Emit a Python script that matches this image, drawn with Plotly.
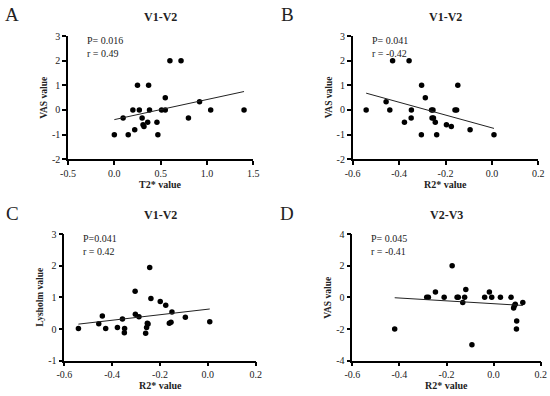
import numpy as np
import plotly.graph_objects as go

# ---- Data ----
a_x = [0.0, 0.095, 0.15, 0.2, 0.22, 0.25, 0.27, 0.30, 0.31, 0.32, 0.36, 0.37, 0.38,
       0.46, 0.47, 0.51, 0.55, 0.55, 0.6, 0.72, 0.80, 0.92, 1.04, 1.40]
a_y = [-1, -0.33, -1, 0, -0.8, 1, 0, -0.33, -0.6, -0.67, -0.5, 1, 0,
       -0.5, -1, 0, 0.5, 0, 2, 2, -0.33, 0.33, 0, 0]

b_x = [-0.542, -0.456, -0.44, -0.428, -0.377, -0.357, -0.348, -0.347, -0.304, -0.303,
       -0.287, -0.26, -0.258, -0.254, -0.252, -0.244, -0.238, -0.196, -0.175, -0.159,
       -0.152, -0.147, -0.094, 0.009]
b_y = [0, 0.33, 0, 2, -0.5, 2, -0.33, 0, -1, 1,
       0.5, 0, -0.33, 0, -0.33, -0.5, -1, -0.6, -0.67, 0,
       0, 1, -0.8, -1]

c_x = [-0.541, -0.456, -0.441, -0.427, -0.378, -0.357, -0.348, -0.349, -0.304, -0.303,
       -0.288, -0.26, -0.256, -0.253, -0.25, -0.243, -0.238, -0.199, -0.176, -0.161,
       -0.154, -0.15, -0.094, 0.008]
c_y = [0.02, 0.17, 0.41, 0.02, 0.05, 0.32, 0.02, -0.12, 1.19, 0.47,
       0.39, -0.13, 0.05, 0.18, 0.16, 1.94, 0.96, 0.87, 0.75, 0.18,
       0.21, 0.54, 0.37, 0.23]

d_x = [-0.42, -0.284, -0.277, -0.247, -0.21, -0.176, -0.155, -0.15, -0.131, -0.123,
       -0.118, -0.092, -0.038, -0.018, -0.008, 0.029, 0.074, 0.085, 0.088, 0.092,
       0.098, 0.097, 0.124]
d_y = [-2, 0, 0, 0.33, 0, 2, 0, 0, -0.33, 0,
       0.5, -3, 0, 0.33, 0, 0, 0, -0.67, -0.53, -0.44,
       -1.5, -2, -0.33]

panels = [
    dict(x=a_x, y=a_y, letter="A", title="V1-V2", xlabel="T2* value", ylabel="VAS value",
         p="P= 0.016", r="r = 0.49",
         xticks=[-0.5, 0.0, 0.5, 1.0, 1.5], xtext=["-0.5", "0.0", "0.5", "1.0", "1.5"],
         yticks=[-2, -1, 0, 1, 2, 3], ytext=["-2", "-1", "0", "1", "2", "3"]),
    dict(x=b_x, y=b_y, letter="B", title="V1-V2", xlabel="R2* value", ylabel="VAS value",
         p="P= 0.041", r="r = -0.42",
         xticks=[-0.6, -0.4, -0.2, 0.0, 0.2], xtext=["-0.6", "-0.4", "-0.2", "0.0", "0.2"],
         yticks=[-2, -1, 0, 1, 2, 3], ytext=["-2", "-1", "0", "1", "2", "3"]),
    dict(x=c_x, y=c_y, letter="C", title="V1-V2", xlabel="R2* value", ylabel="Lysholm value",
         p="P=0.041", r="r = 0.42",
         xticks=[-0.6, -0.4, -0.2, 0.0, 0.2], xtext=["-0.6", "-0.4", "-0.2", "0.0", "0.2"],
         yticks=[-1, 0, 1, 2, 3], ytext=["-1", "0", "1", "2", "3"]),
    dict(x=d_x, y=d_y, letter="D", title="V2-V3", xlabel="R2* value", ylabel="VAS value",
         p="P= 0.045", r="r = -0.41",
         xticks=[-0.6, -0.4, -0.2, 0.0, 0.2], xtext=["-0.6", "-0.4", "-0.2", "0.0", "0.2"],
         yticks=[-4, -2, 0, 2, 4], ytext=["-4", "-2", "0", "2", "4"]),
]

# ---- Layout (pixel geometry) ----
W, H = 550, 396
boxes = [  # left, right, top, bottom in px
    (68.0, 253.3, 36.0, 159.3),
    (352.7, 538.3, 36.0, 159.3),
    (64.3, 255.7, 234.0, 360.7),
    (352.3, 540.7, 234.0, 360.7),
]
FONT = "Liberation Serif, Times New Roman, serif"

fig = go.Figure()
annotations = []

def px(xp):
    return xp / W

def py(yp):
    return 1 - yp / H

def ann(x, y, text, size, **kw):
    d = dict(x=px(x), y=py(y), text=text, showarrow=False, xref="paper", yref="paper",
             xanchor="center", yanchor="middle", font=dict(family=FONT, size=size, color="#222"))
    d.update(kw)
    return d

for i, (pn, box) in enumerate(zip(panels, boxes)):
    k = "" if i == 0 else str(i + 1)
    l, r, t, b = box
    xa, ya = "x" + k, "y" + k
    fig.add_trace(go.Scatter(x=pn["x"], y=pn["y"], mode="markers", xaxis=xa, yaxis=ya,
                             marker=dict(color="black", size=5.5), showlegend=False,
                             cliponaxis=False))
    xs = np.array(pn["x"], float)
    ys = np.array(pn["y"], float)
    m, c0 = np.polyfit(xs, ys, 1)
    lx = np.array([xs.min(), xs.max()])
    fig.add_trace(go.Scatter(x=lx, y=m * lx + c0, mode="lines", xaxis=xa, yaxis=ya,
                             line=dict(color="#222222", width=1), showlegend=False))
    axis_common = dict(showline=True, linecolor="black", linewidth=1.5, ticks="outside",
                       ticklen=4, tickwidth=1.5, tickcolor="black", showgrid=False,
                       zeroline=False, automargin=False,
                       tickfont=dict(family=FONT, size=10, color="#222"))
    fig.update_layout(**{
        "xaxis" + k: dict(domain=[px(l), px(r)], range=[pn["xticks"][0], pn["xticks"][-1]],
                          tickvals=pn["xticks"], ticktext=pn["xtext"], anchor=ya,
                          **axis_common),
        "yaxis" + k: dict(domain=[py(b), py(t)], range=[pn["yticks"][0], pn["yticks"][-1]],
                          tickvals=pn["yticks"], ticktext=pn["ytext"], anchor=xa,
                          **axis_common),
    })
    cx = (l + r) / 2
    annotations += [
        ann(cx, t - 19, "<b>" + pn["title"] + "</b>", 12),
        ann(12 + (0 if i % 2 == 0 else 275), t - 21, pn["letter"], 19),
        ann(cx, b + 25, "<b>" + pn["xlabel"] + "</b>", 10),
        ann(l - 24, (t + b) / 2, "<b>" + pn["ylabel"] + "</b>", 9.5, textangle=-90),
        ann(l + 17, t + 11, pn["p"] + "<br>" + pn["r"], 10, xanchor="left", align="left"),
    ]

fig.update_layout(width=W, height=H, margin=dict(l=0, r=0, t=0, b=0, pad=0, autoexpand=False),
                  paper_bgcolor="white", plot_bgcolor="white", annotations=annotations)
fig.write_html("out.html", config={"displayModeBar": False},
               post_script="document.body.style.margin='0';")
